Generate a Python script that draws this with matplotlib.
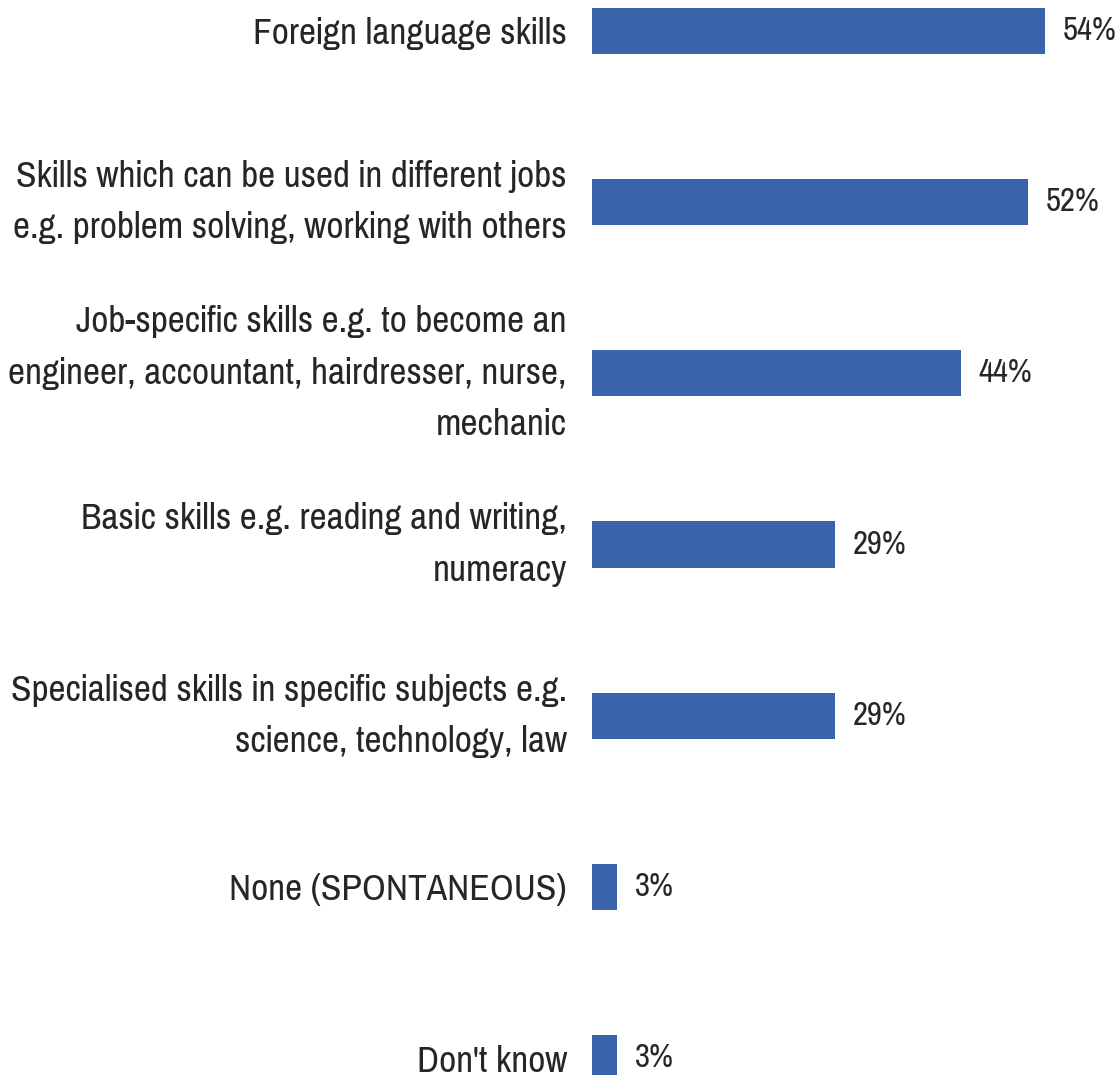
import matplotlib
matplotlib.use('Agg')
import matplotlib.pyplot as plt
from matplotlib import font_manager

# survey answers, top to bottom
categories = [
    'Foreign language skills',
    'Skills which can be used in different jobs\ne.g. problem solving, working with others',
    'Job-specific skills e.g. to become an\nengineer, accountant, hairdresser, nurse,\nmechanic',
    'Basic skills e.g. reading and writing,\nnumeracy',
    'Specialised skills in specific subjects e.g.\nscience, technology, law',
    'None (SPONTANEOUS)',
    "Don't know",
]
values = [54, 52, 44, 29, 29, 3, 3]
value_labels = ['54%', '52%', '44%', '29%', '29%', '3%', '3%']

# narrow sans-serif, first one that is installed
names = {f.name for f in font_manager.fontManager.ttflist}
wanted = ['Liberation Sans Narrow', 'Arial Narrow', 'Pragati Narrow', 'Archivo Narrow',
          'Roboto Condensed', 'PT Sans Narrow', 'IBM Plex Sans Condensed', 'Open Sans Condensed']
font = next((w for w in wanted if w in names), 'DejaVu Sans')
plt.rcParams['font.family'] = [font, 'DejaVu Sans']

bar_color = '#3A64AA'
text_color = '#262626'

fig = plt.figure(figsize=(11.2, 10.75), dpi=100)
ax = fig.add_axes([592 / 1120, 0, 528 / 1120, 1])

# size the labels so the widest line is about 550 px
probe = fig.text(0, 0, 'Skills which can be used in different jobs', fontsize=20)
w = probe.get_window_extent(fig.canvas.get_renderer()).width
probe.remove()
fs = 20 * 550 / w

pos = list(range(len(values)))
ax.barh(pos, values, height=0.27, color=bar_color)

ax.set_xlim(0, 63)
ax.set_ylim(6.099, -0.181)

ax.set_yticks(pos)
ax.set_yticklabels(categories, fontsize=fs, color=text_color, linespacing=1.68)
ax.tick_params(axis='y', length=0, pad=18)
# wrapped labels are centred on their whole block
for t in ax.get_yticklabels():
    if '\n' in t.get_text():
        t.set_verticalalignment('center')
ax.set_xticks([])
for s in ax.spines.values():
    s.set_visible(False)

for p, v, lab in zip(pos, values, value_labels):
    ax.annotate(lab, (v, p), xytext=(13, 0), textcoords='offset points',
                va='center', ha='left', fontsize=fs * 0.88, color=text_color)

fig.savefig('out.png', dpi=100)
